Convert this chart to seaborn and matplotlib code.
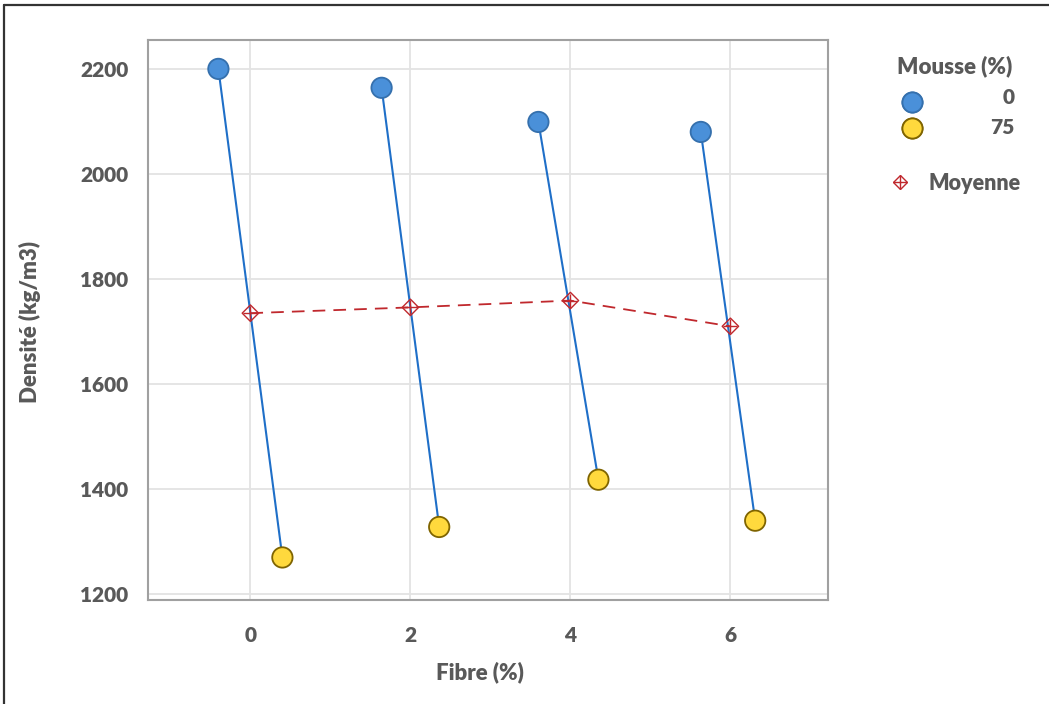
import matplotlib
matplotlib.use("Agg")
import matplotlib.pyplot as plt
import seaborn as sns
import pandas as pd
from matplotlib.lines import Line2D
from matplotlib.legend_handler import HandlerTuple

# ---- data ----
fibre = [0, 2, 4, 6]
mousse_levels = ["0", "75"]
# displayed (jittered) x positions of the points
x_mousse0 = [-0.40, 1.64, 3.60, 5.63]
x_mousse75 = [0.40, 2.36, 4.35, 6.31]
dens_mousse0 = [2200, 2164, 2099, 2080]
dens_mousse75 = [1270, 1328, 1418, 1340]
dens_mean = [1735, 1746, 1759, 1710]
y_ticks = [1200, 1400, 1600, 1800, 2000, 2200]
x_ticks = [0, 2, 4, 6]

df = pd.DataFrame({
    "fibre": fibre * 2,
    "x": x_mousse0 + x_mousse75,
    "dens": dens_mousse0 + dens_mousse75,
    "mousse": [mousse_levels[0]] * 4 + [mousse_levels[1]] * 4,
})
df_mean = pd.DataFrame({"fibre": fibre, "dens": dens_mean})

sns.set_theme(style="white")
plt.rcParams["font.family"] = ["Lato", "DejaVu Sans"]
W = "heavy"
plt.rcParams["font.weight"] = W

TXT = "#595959"
BLUE_FILL = "#4A90D9"
BLUE_EDGE = "#3570AD"
YEL_FILL = "#FFD93D"
YEL_EDGE = "#7F6400"
LINE_BLUE = "#1F6FC8"
RED = "#C0282D"

fig = plt.figure(figsize=(10.49, 7.04), dpi=100)
ax = fig.add_axes([148 / 1049, 1 - 600 / 704, (828 - 148) / 1049, (600 - 40) / 704])

# connecting lines per fibre group
sns.lineplot(data=df.sort_values(["fibre", "mousse"]), x="x", y="dens", units="fibre",
             estimator=None, sort=False, color=LINE_BLUE, lw=1.5, ax=ax, zorder=2)

# mean dashed line
sns.lineplot(data=df_mean, x="fibre", y="dens", color=RED, lw=1.3, ax=ax,
             dashes=False, zorder=3)
ax.lines[-1].set_dashes([7, 4.5])

# points
sns.scatterplot(data=df, x="x", y="dens", hue="mousse",
                palette={mousse_levels[0]: BLUE_FILL, mousse_levels[1]: YEL_FILL},
                s=215, linewidth=1.3, legend=False, ax=ax, zorder=5)
colls = ax.collections[-1]
colls.set_edgecolors([BLUE_EDGE] * 4 + [YEL_EDGE] * 4)

# mean markers (diamond with cross)
sns.scatterplot(data=df_mean, x="fibre", y="dens", marker="D", s=70,
                facecolor="none", edgecolor=RED, linewidth=1.0, ax=ax, zorder=6)
sns.scatterplot(data=df_mean, x="fibre", y="dens", marker="+", s=110,
                color=RED, linewidth=1.0, ax=ax, zorder=6)

ax.set_xlim(-1.28, 7.22)
ax.set_ylim(1189, 2255)
ax.set_xticks(x_ticks)
ax.set_yticks(y_ticks)
ax.grid(True, color="#E3E3E3", lw=1.3)
ax.set_axisbelow(True)
for sp in ax.spines.values():
    sp.set_visible(True)
    sp.set_color("#A0A0A0")
    sp.set_linewidth(1.5)
ax.tick_params(axis="both", which="both", direction="out", length=4, width=1,
               color="#A0A0A0", labelsize=15, labelcolor=TXT)
ax.tick_params(axis="x", pad=15)
ax.tick_params(axis="y", pad=10)
for lab in ax.get_xticklabels() + ax.get_yticklabels():
    lab.set_fontweight(W)

ax.set_xlabel("Fibre (%)", fontsize=16, fontweight=W, color=TXT)
ax.set_ylabel("Densité (kg/m3)", fontsize=16, fontweight=W, color=TXT)
ax.xaxis.set_label_coords((480 - 148) / 680, (600 - 672) / 560)
ax.xaxis.label.set_va("center")
ax.yaxis.set_label_coords((30 - 148) / 680, (600 - 322) / 560)
ax.yaxis.label.set_va("center")

# legend: Mousse (%)
fig.text(955 / 1049, 1 - 66 / 704, "Mousse (%)", ha="center", va="center",
         fontsize=16, fontweight=W, color=TXT)
h0 = Line2D([], [], marker="o", ls="none", markersize=14.5, markerfacecolor=BLUE_FILL,
            markeredgecolor=BLUE_EDGE, markeredgewidth=1.3)
h75 = Line2D([], [], marker="o", ls="none", markersize=14.5, markerfacecolor=YEL_FILL,
             markeredgecolor=YEL_EDGE, markeredgewidth=1.3)
leg1 = fig.legend([h0, h75], ["", ""], frameon=False,
                  loc="center", bbox_to_anchor=(912 / 1049, 1 - 116.5 / 704),
                  labelspacing=0.45, borderaxespad=0, borderpad=0,
                  handletextpad=0, handlelength=1.2,
                  prop={"size": 14, "weight": W})
fig.text(1015 / 1049, 1 - 98 / 704, mousse_levels[0], ha="right", va="center",
         fontsize=15, fontweight=W, color=TXT)
fig.text(1015 / 1049, 1 - 128 / 704, mousse_levels[1], ha="right", va="center",
         fontsize=15, fontweight=W, color=TXT)

# legend: Moyenne
hd = Line2D([], [], marker="D", ls="none", markersize=7, markerfacecolor="none",
            markeredgecolor=RED, markeredgewidth=1.0)
hp = Line2D([], [], marker="+", ls="none", markersize=10, color=RED, markeredgewidth=1.0)
leg2 = fig.legend([(hd, hp)], ["Moyenne"], frameon=False, loc="center left",
                  bbox_to_anchor=(887 / 1049, 1 - 183 / 704), borderaxespad=0, borderpad=0,
                  handler_map={tuple: HandlerTuple(ndivide=1)},
                  handlelength=1.2, handletextpad=0.75,
                  prop={"size": 15.5, "weight": W})
for t in leg2.get_texts():
    t.set_color(TXT)
fig.add_artist(leg1)

# outer frame (top and left edge)
fig.add_artist(Line2D([4 / 1049, 4 / 1049], [0, 1 - 5 / 704], transform=fig.transFigure,
                      color="#333333", lw=1.6))
fig.add_artist(Line2D([4 / 1049, 1], [1 - 5 / 704, 1 - 5 / 704], transform=fig.transFigure,
                      color="#333333", lw=1.6))

fig.savefig("out.png", dpi=100)
